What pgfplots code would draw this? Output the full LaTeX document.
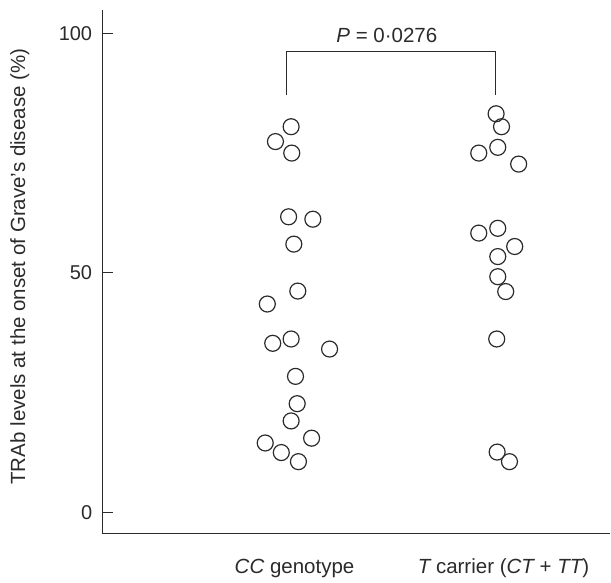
\documentclass[border=0pt]{standalone}
\usepackage{fontspec}
\setmainfont{Liberation Sans}
\usepackage{pgfplots}
\pgfplotsset{compat=1.18}
\definecolor{ink}{HTML}{2B2B2B}

\begin{document}
\begin{tikzpicture}
\begin{axis}[
  scale only axis, width=508pt, height=524pt,
  xmin=0.12, xmax=2.55, ymin=-4.44, ymax=104.86,
  axis x line*=bottom, axis y line*=left,
  axis line style={ink, line width=1.2pt},
  xtick={1,2},
  xticklabels={{\itshape CC} genotype, {\itshape T} carrier ({\itshape CT} + {\itshape TT})},
  major x tick style={draw=none},
  ytick={0,50,100},
  tick align=inside, major tick length=10pt,
  major y tick style={ink, line width=1.2pt},
  tick label style={text=ink},
  yticklabel style={font=\fontsize{20}{24}\selectfont, xshift=-7pt},
  xticklabel style={font=\fontsize{20.5}{24}\selectfont, text height=15pt,
    text depth=4pt, yshift=-21pt, xshift=8pt},
  /pgf/number format/assume math mode=true,
  ylabel={TRAb levels at the onset of Grave's disease (\%)},
  every axis y label/.style={at={(axis description cs:-0.163,0.51)}, rotate=90,
    anchor=center, font=\fontsize{20.5}{24}\selectfont, text=ink},
  clip=false,
]
% CC genotype
\addplot[only marks, mark=o, mark size=8pt, ink, line width=1.2pt,
  mark options={fill=white}] coordinates {
  (1.022,80.5)(0.947,77.4)(1.025,75.0)(1.010,61.7)(1.126,61.2)(1.035,56.0)
  (1.054,46.2)(0.908,43.5)(0.934,35.3)(1.022,36.2)(1.206,34.1)(1.043,28.4)
  (1.051,22.7)(1.022,19.1)(0.898,14.5)(1.120,15.5)(0.975,12.5)(1.057,10.6)};
% T carrier
\addplot[only marks, mark=o, mark size=8pt, ink, line width=1.2pt,
  mark options={fill=white}] coordinates {
  (2.003,83.2)(2.029,80.5)(1.920,75.0)(2.011,76.2)(2.111,72.7)(1.920,58.3)
  (2.011,59.3)(2.092,55.5)(2.011,53.4)(2.011,49.2)(2.049,46.1)(2.006,36.2)
  (2.008,12.6)(2.067,10.6)};
\draw[ink, line width=1.2pt] (axis cs:1,87.1) -- (axis cs:1,96.2)
  -- (axis cs:2,96.2) -- (axis cs:2,87.1);
\node[anchor=south, inner sep=3pt, yshift=5.5pt, text=ink,
  font=\fontsize{20.5}{24}\selectfont]
  at (axis cs:1.48,96.2) {\textit{P} = 0·0276};
\coordinate (tl) at (rel axis cs:0,1);
\coordinate (br) at (rel axis cs:1,0);
\end{axis}
\path (tl) ++(-102.7pt,10pt);
\path (br) ++(0,-49pt);
\end{tikzpicture}
\end{document}
